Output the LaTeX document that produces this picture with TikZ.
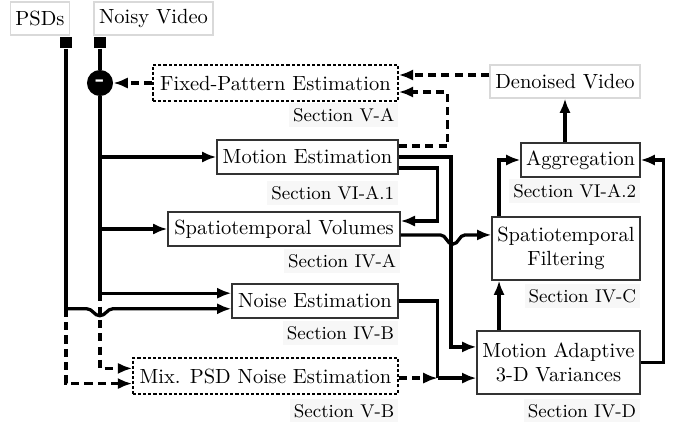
\documentclass[tikz,border=0pt]{standalone}
\usepackage{xcolor}
\usepackage{tikz}
\usetikzlibrary{arrows.meta,positioning}

\begin{document}
\begin{tikzpicture}[x=0.4878pt, y=-0.4878pt,
    >={Latex[length=7pt,width=5.5pt]},
    wire/.style={line width=1.6pt},
    dwire/.style={line width=1.6pt, dash pattern=on 4pt off 2.5pt},
    blk/.style={draw=black!80, line width=0.6pt, fill=white, inner sep=2pt, align=center, minimum height=16.6pt},
    dblk/.style={blk, draw=black, line width=0.8pt, dash pattern=on 1.5pt off 1pt, minimum height=17.6pt},
    io/.style={draw=black!15, line width=0.6pt, fill=white, inner sep=2pt, minimum height=16pt},
    sec/.style={fill=black!3, font=\small, inner xsep=2pt, inner ysep=1pt, minimum height=11.7pt, anchor=north east},
    port/.style={fill=black, minimum size=5.6pt, inner sep=0pt},
    minus/.style={circle, fill=black, minimum size=12.7pt, inner sep=0pt, text=white, font=\bfseries\large}]
    \useasboundingbox (0,0) rectangle (678,422);

    \node[io, minimum width=29pt] (psd) at (40,18.5) {PSDs};
    \node[io, minimum width=58pt] (vid) at (153.5,18.5) {Noisy Video};
    \node[io, minimum width=73.2pt] (den) at (565,81.5) {Denoised Video};
    \node[port] (psq) at (66,42.5) {};
    \node[port] (vsq) at (100,42.5) {};

    \node[dblk, minimum width=119.5pt] (fpe) at (275.5,83) {Fixed-Pattern Estimation};
    \node[blk, minimum width=88.3pt] (me) at (307.5,157) {Motion Estimation};
    \node[blk, minimum width=113.2pt] (sv) at (284,229) {Spatiotemporal Volumes};
    \node[blk, minimum width=81pt] (ne) at (315,301) {Noise Estimation};
    \node[dblk, minimum width=129.3pt] (mix) at (265.5,376) {Mix. PSD Noise Estimation};
    \node[blk, minimum width=58pt] (agg) at (580.5,160) {Aggregation};
    \node[blk, minimum width=72.2pt, minimum height=30.7pt] (sf) at (566,248.5) {Spatiotemporal\\Filtering};
    \node[blk, minimum width=79.5pt, minimum height=30.7pt] (ma) at (558.5,362.5) {Motion Adaptive\\3-D Variances};
    \node[minus] (sub) at (vsq |- fpe) {-};

    \node[sec] (fpesec) at ([yshift=-0.5pt]fpe.south east) {Section V-A};
    \node[sec] (mesec) at ([yshift=-3pt]me.south east) {Section VI-A.1};
    \node[sec] (svsec) at ([yshift=-1pt]sv.south east) {Section IV-A};
    \node[sec] (nesec) at ([yshift=-1pt]ne.south east) {Section IV-B};
    \node[sec] (mixsec) at ([yshift=-2pt]mix.south east) {Section V-B};
    \node[sec] (aggsec) at ([yshift=-0.5pt]agg.south east) {Section VI-A.2};
    \node[sec] (sfsec) at ([yshift=-1.5pt]sf.south east) {Section IV-C};
    \node[sec] (masec) at ([yshift=-2pt]ma.south east) {Section IV-D};

    \coordinate (neA) at ([yshift=3.8pt]ne.west);
    \coordinate (neB) at ([yshift=-3.8pt]ne.west);
    \coordinate (mixA) at ([yshift=3.7pt]mix.west);
    \coordinate (mixB) at ([yshift=-3.7pt]mix.west);
    \coordinate (fpeA) at ([yshift=3.9pt]fpe.east);
    \coordinate (svo) at ([yshift=-2.9pt]sv.east);
    \coordinate (col) at ([xshift=-29pt]ma.north);
    \coordinate (maB) at ([yshift=-7.6pt]ma.west);
    \coordinate (mixj) at ([xshift=19pt]ne.east |- maB);

    \draw[wire] (vsq) -- (sub) -- (neA -| vsq);
    \draw[wire] (psq) -- (neB -| psq);
    \draw[wire,->] (me.west -| vsq) -- (me.west);
    \draw[wire,->] (sv.west -| vsq) -- (sv.west);
    \draw[wire,->] (neA -| vsq) -- (neA);
    \draw[wire,->] (neB -| psq) -- ++(10.2pt,0) to[out=0,in=180] ++(6.3pt,-3.4pt) to[out=0,in=180] ++(6.3pt,3.4pt) -- (neB);
    \draw[dwire,->] (neA -| vsq) |- (mixA);
    \draw[dwire,->] (neB -| psq) |- (mixB);

    \draw[dwire,->] (fpe.west) -- (sub);
    \draw[dwire,->] (fpeA -| den.west) -- (fpeA);
    \draw[dwire,->] ([yshift=5.4pt]me.east) -- ++(24pt,0) |- ([yshift=-4.4pt]fpe.east);
    \draw[wire,->] ([yshift=-5.4pt]me.east) -- ++(19pt,0) |- ([yshift=3.9pt]sv.east);
    \draw[wire,->] (me.east) -- ++(25.5pt,0) |- ([yshift=7.6pt]ma.west);
    \draw[wire,->] (svo) -- ++(19.4pt,0) to[out=0,in=180] ++(6pt,-4.5pt) to[out=0,in=180] ++(6pt,4.5pt) -- (svo -| sf.west);
    \draw[wire] (ne.east) -| (mixj);
    \draw[wire,->] (mixj) -- (maB);
    \draw[dwire,->] (mix.east |- mixj) -- (mixj);

    \draw[wire,->] (col) -- (col |- sf.south);
    \draw[wire,->] (col |- sf.north) |- (agg.west);
    \draw[wire,->] (ma.east) -- ++(11.2pt,0) |- (agg.east);
    \draw[wire,->] (agg.north -| den.south) -- (den.south);
\end{tikzpicture}
\end{document}
